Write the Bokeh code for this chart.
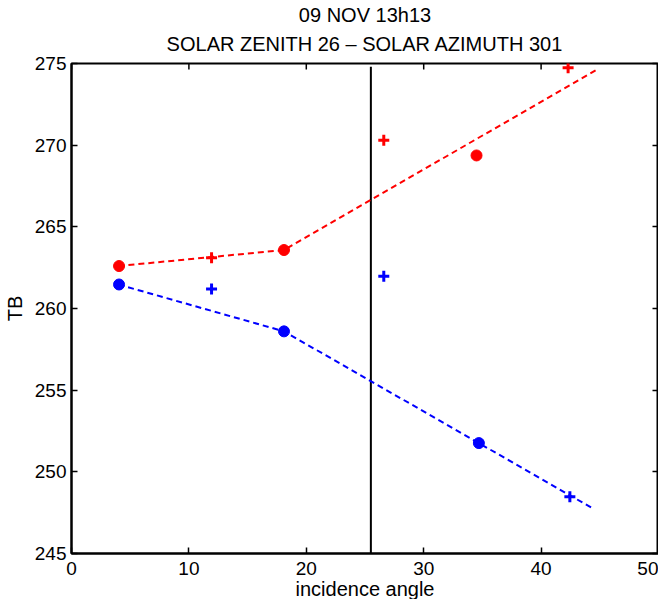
import math
from bokeh.plotting import figure
from bokeh.models import Range1d, LinearAxis, Title, FixedTicker
from bokeh.embed import file_html
from bokeh.resources import INLINE

# ---- data ----
red_line_x = [4.0, 18.1, 44.8]
red_line_y = [262.6, 263.58, 274.65]
blue_line_x = [4.0, 18.1, 44.3]
blue_line_y = [261.47, 258.6, 247.8]

red_circle_x = [4.05, 18.1, 34.5]
red_circle_y = [262.6, 263.58, 269.37]
red_plus_x = [11.93, 26.6, 42.3]
red_plus_y = [263.1, 270.3, 274.74]

blue_circle_x = [4.05, 18.1, 34.7]
blue_circle_y = [261.47, 258.6, 251.76]
blue_plus_x = [11.93, 26.6, 42.45]
blue_plus_y = [261.2, 261.98, 248.47]

vline_x = [25.5, 25.5]
vline_y = [245.0, 274.8]

x_ticks = [0, 10, 20, 30, 40, 50]
y_ticks = [245, 250, 255, 260, 265, 270, 275]

title_line1 = "09 NOV 13h13"
title_line2 = "SOLAR ZENITH 26 \u2013 SOLAR AZIMUTH 301"
x_label = "incidence angle"
y_label = "TB"

FONT = "Liberation Sans"

p = figure(frame_width=587, frame_height=490,
           x_range=Range1d(0, 50), y_range=Range1d(245, 275),
           output_backend="svg", toolbar_location=None,
           min_border_left=0, min_border_right=0, min_border_top=0, min_border_bottom=0,
           background_fill_color="white", border_fill_color="white",
           outline_line_color="black", outline_line_width=2)

# outer title line
p.title.text = title_line1
p.title.align = "center"
p.title.text_font = FONT
p.title.text_font_size = "20px"
p.title.text_font_style = "normal"
p.title.text_color = "black"
p.title.standoff = 2
# inner title line (closer to the frame)
p.add_layout(Title(text=title_line2, align="center", text_font=FONT,
                   text_font_size="20px", text_font_style="normal",
                   text_color="black", standoff=13, vertical_align="top"), "above")

p.xgrid.visible = False
p.ygrid.visible = False

p.xaxis.ticker = FixedTicker(ticks=x_ticks)
p.yaxis.ticker = FixedTicker(ticks=y_ticks)
for ax in [p.xaxis[0], p.yaxis[0]]:
    ax.axis_line_width = 2
    ax.axis_line_color = "black"
    ax.major_tick_in = 6
    ax.major_tick_out = 0
    ax.major_tick_line_width = 1.5
    ax.major_tick_line_color = "black"
    ax.minor_tick_line_color = None
    ax.major_label_text_font = FONT
    ax.major_label_text_font_size = "19px"
    ax.major_label_text_color = "black"
    ax.axis_label_text_font = FONT
    ax.axis_label_text_font_size = "20px"
    ax.axis_label_text_font_style = "normal"
    ax.axis_label_text_color = "black"
p.xaxis.axis_label = x_label
p.yaxis.axis_label = y_label
p.xaxis.major_label_standoff = 8
p.xaxis.axis_label_standoff = 0
p.yaxis.major_label_standoff = 5
p.yaxis.axis_label_standoff = 6

right_ax = LinearAxis(ticker=FixedTicker(ticks=y_ticks))
right_ax.axis_line_width = 2
right_ax.axis_line_color = "black"
right_ax.major_tick_in = 6
right_ax.major_tick_out = 0
right_ax.major_tick_line_width = 1.5
right_ax.major_tick_line_color = "black"
right_ax.minor_tick_line_color = None
right_ax.major_label_overrides = {t: " " for t in y_ticks}
right_ax.major_label_text_font_size = "0px"
right_ax.major_label_standoff = 0
p.add_layout(right_ax, "right")

# inward ticks along the top edge of the box (half of each dash is clipped away)
p.scatter(x_ticks, [y_ticks[-1]] * len(x_ticks), marker="dash", angle=math.pi / 2,
          size=12, line_color="black", line_width=1.5)

# vertical line
p.line(vline_x, vline_y, line_color="black", line_width=2)

# dashed fit lines
p.line(red_line_x, red_line_y, line_color="red", line_width=2, line_dash="6 4")
p.line(blue_line_x, blue_line_y, line_color="blue", line_width=2, line_dash="6 4")

# markers
p.scatter(red_circle_x, red_circle_y, marker="circle", size=11,
          fill_color="red", line_color="red")
p.scatter(blue_circle_x, blue_circle_y, marker="circle", size=11,
          fill_color="blue", line_color="blue")
p.scatter(red_plus_x, red_plus_y, marker="cross", size=11,
          line_color="red", line_width=3)
p.scatter(blue_plus_x, blue_plus_y, marker="cross", size=11,
          line_color="blue", line_width=3)

open("out.html", "w").write(file_html(p, INLINE))
